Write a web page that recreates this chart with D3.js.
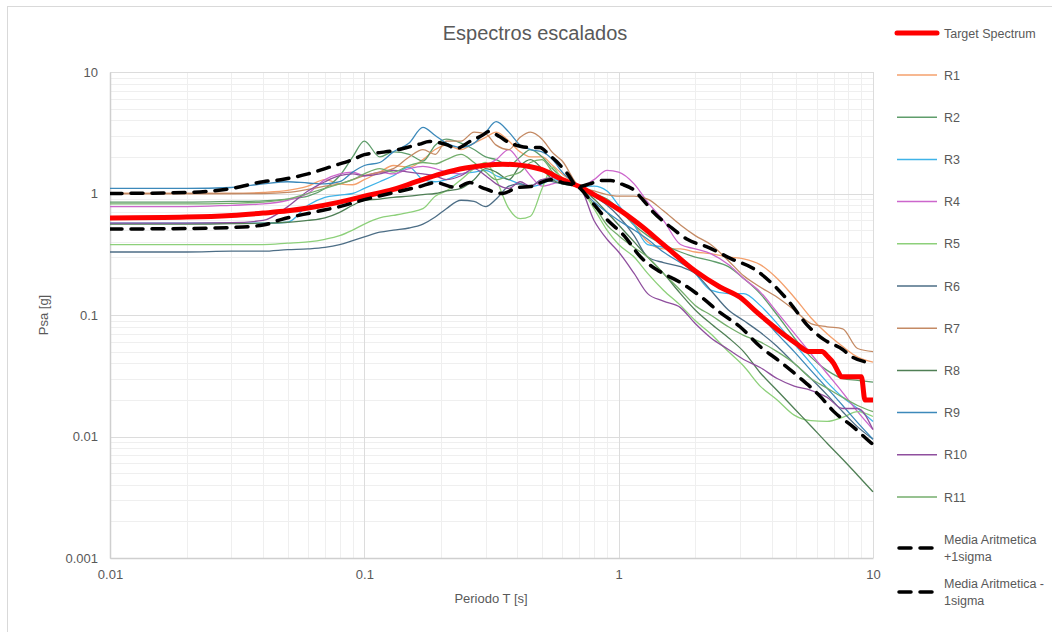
<!DOCTYPE html>
<html>
<head>
<meta charset="utf-8">
<script src="https://cdn.jsdelivr.net/npm/d3@7"></script>
<style>
  body { margin: 0; background: #fff; }
  text { font-family: "Liberation Sans", Arial, sans-serif; fill: #595959; }
</style>
</head>
<body>
<script>
var w = 1052, h = 632,
    pLeft = 110, pRight = 873, pTop = 72, pBottom = 558;

// periods shared by the eleven scaled records
var periods = [0.01, 0.02, 0.03, 0.04, 0.05, 0.06, 0.07, 0.08, 0.09, 0.1, 0.115, 0.13, 0.15, 0.17, 0.19, 0.21, 0.24, 0.27, 0.3, 0.33,
  0.37, 0.41, 0.45, 0.5, 0.55, 0.6, 0.7, 0.8, 0.9, 1.0, 1.15, 1.3, 1.5, 1.75, 2.0, 2.3, 2.7, 3.1, 3.6, 4.2, 4.9, 5.7, 6.6, 7.6, 8.7, 10];

var r1 = [1.0, 1.0, 1.0, 1.02, 1.06, 1.15, 1.3, 1.2, 1.18, 1.3, 1.5, 1.7, 1.65, 1.9, 2.3, 2.5, 2.3, 2.6, 2.9, 3.2,
  2.7, 2.2, 2.0, 2.0, 1.7, 1.45, 1.14, 0.95, 0.85, 0.75, 0.55, 0.40, 0.35, 0.35, 0.33, 0.32, 0.30, 0.29, 0.26, 0.2, 0.14, 0.095, 0.07, 0.055, 0.045, 0.041];
var r2 = [0.85, 0.85, 0.86, 0.87, 0.9, 0.95, 1.1, 1.4, 2.0, 2.7, 2.0, 2.2, 2.1, 1.85, 2.5, 2.8, 2.6, 2.3, 2.0, 1.9,
  1.7, 2.0, 2.3, 2.0, 1.6, 1.35, 1.14, 1.0, 0.9, 0.75, 0.55, 0.45, 0.38, 0.33, 0.3, 0.28, 0.25, 0.2, 0.15, 0.1, 0.065, 0.045, 0.035, 0.03, 0.029, 0.028];
var r3 = [0.57, 0.57, 0.57, 0.57, 0.58, 0.8, 0.93, 0.97, 1.0, 1.1, 1.25, 1.4, 1.65, 1.3, 1.25, 1.3, 1.45, 1.5, 1.55, 1.4,
  1.3, 1.2, 1.14, 1.2, 1.3, 1.25, 1.14, 1.15, 1.05, 0.8, 0.55, 0.38, 0.36, 0.3, 0.22, 0.16, 0.15, 0.15, 0.12, 0.085, 0.058, 0.04, 0.028, 0.021, 0.017, 0.0133];
var r4 = [0.78, 0.78, 0.8, 0.82, 0.88, 1.0, 1.3, 1.45, 1.5, 1.4, 1.5, 1.45, 1.6, 1.67, 1.6, 1.5, 1.45, 1.6, 1.7, 1.9,
  2.3, 1.8, 1.4, 1.15, 1.2, 1.25, 1.14, 1.3, 1.55, 1.5, 1.2, 0.85, 0.6, 0.38, 0.35, 0.32, 0.26, 0.2, 0.155, 0.105, 0.071, 0.048, 0.033, 0.023, 0.016, 0.0114];
var r5 = [0.38, 0.38, 0.38, 0.38, 0.39, 0.4, 0.42, 0.45, 0.5, 0.56, 0.63, 0.66, 0.7, 0.75, 0.95, 1.05, 1.3, 1.6, 1.8, 1.3,
  0.75, 0.62, 0.65, 1.1, 1.65, 1.3, 1.14, 0.75, 0.5, 0.38, 0.3, 0.22, 0.16, 0.12, 0.09, 0.07, 0.05, 0.038, 0.026, 0.02, 0.015, 0.0135, 0.0133, 0.0144, 0.016, 0.0146];
var r6 = [0.33, 0.33, 0.335, 0.335, 0.345, 0.35, 0.36, 0.38, 0.41, 0.44, 0.48, 0.5, 0.52, 0.56, 0.64, 0.75, 0.88, 0.86, 0.78, 0.9,
  1.15, 1.2, 1.15, 1.3, 1.25, 1.2, 1.14, 0.95, 0.8, 0.65, 0.45, 0.3, 0.27, 0.25, 0.22, 0.16, 0.11, 0.09, 0.072, 0.055, 0.04, 0.03, 0.022, 0.016, 0.012, 0.0095];
var r7 = [1.0, 1.0, 1.0, 1.0, 1.02, 1.08, 1.15, 1.2, 1.3, 1.4, 1.5, 1.6, 2.0, 2.3, 2.1, 2.7, 2.7, 3.2, 3.1, 2.5,
  2.3, 2.9, 3.2, 2.8, 2.17, 1.85, 1.14, 1.05, 0.98, 0.95, 0.95, 0.9, 0.72, 0.55, 0.45, 0.38, 0.28, 0.21, 0.17, 0.14, 0.11, 0.085, 0.08, 0.077, 0.053, 0.05];
var r8 = [0.56, 0.56, 0.565, 0.57, 0.58, 0.6, 0.63, 0.7, 0.8, 0.88, 0.9, 0.93, 0.95, 0.98, 1.0, 1.05, 1.1, 1.3, 1.6, 1.5,
  1.3, 1.7, 1.9, 1.6, 1.3, 1.2, 1.14, 0.9, 0.7, 0.55, 0.4, 0.3, 0.22, 0.15, 0.11, 0.085, 0.065, 0.05, 0.0335, 0.0239, 0.017, 0.0122, 0.0088, 0.0065, 0.0048, 0.0035];
var r9 = [1.1, 1.1, 1.12, 1.2, 1.25, 1.22, 1.2, 1.25, 1.5, 1.7, 1.8, 2.2, 2.6, 3.5, 3.0, 2.6, 2.4, 2.6, 3.2, 3.9,
  3.2, 2.5, 2.3, 2.2, 1.9, 1.5, 1.14, 0.85, 0.7, 0.6, 0.5, 0.42, 0.33, 0.27, 0.23, 0.19, 0.16, 0.13, 0.1, 0.07, 0.05, 0.035, 0.025, 0.018, 0.013, 0.0095];
var r10 = [0.57, 0.57, 0.575, 0.6, 0.78, 1.05, 1.25, 1.4, 1.45, 1.4, 1.45, 1.55, 1.5, 1.45, 1.4, 1.3, 1.4, 1.6, 1.4, 1.2,
  1.1, 1.25, 1.15, 1.3, 1.35, 1.25, 1.14, 0.6, 0.42, 0.33, 0.22, 0.15, 0.13, 0.115, 0.085, 0.065, 0.052, 0.043, 0.037, 0.03, 0.026, 0.024, 0.021, 0.017, 0.017, 0.0114];
var r11 = [0.82, 0.82, 0.83, 0.85, 0.9, 1.0, 1.1, 1.2, 1.3, 1.45, 1.6, 1.5, 1.7, 1.8, 1.75, 1.9, 2.1, 1.8, 1.5, 1.3,
  1.4, 1.5, 1.8, 1.9, 1.5, 1.3, 1.14, 0.8, 0.55, 0.45, 0.36, 0.3, 0.22, 0.16, 0.12, 0.1, 0.08, 0.068, 0.06, 0.05, 0.04, 0.03, 0.025, 0.021, 0.018, 0.016];

var records = [r1, r2, r3, r4, r5, r6, r7, r8, r9, r10, r11];
var recordNames = ["R1", "R2", "R3", "R4", "R5", "R6", "R7", "R8", "R9", "R10", "R11"];
var recordColors = ["#f4a06c", "#5f9d6b", "#3fb3e8", "#cc66cc", "#8dd07a", "#4d6e86", "#c48a64", "#4f7f55", "#3c89ba", "#8f4f9e", "#74ae6c"];

// target spectrum
var targetT = [0.01, 0.02, 0.03, 0.04, 0.05, 0.06, 0.08, 0.1, 0.13, 0.16, 0.2, 0.25, 0.3, 0.35, 0.4, 0.45, 0.5, 0.6, 0.7, 0.8,
  0.9, 1.0, 1.2, 1.5, 2.0, 2.5, 3.0, 3.5, 4.0, 4.5, 5.0, 5.6, 6.3, 6.6, 7.0, 7.3, 7.5, 9.0, 9.3, 10];
var targetSa = [0.63, 0.64, 0.66, 0.69, 0.72, 0.76, 0.85, 0.95, 1.08, 1.25, 1.45, 1.62, 1.71, 1.74, 1.72, 1.66, 1.57, 1.3, 1.14, 0.98,
  0.85, 0.74, 0.56, 0.38, 0.23, 0.17, 0.14, 0.105, 0.083, 0.068, 0.058, 0.05, 0.05, 0.046, 0.04, 0.034, 0.031, 0.031, 0.02, 0.02];

// media aritmetica +1 sigma
var plusT = [0.01, 0.02, 0.03, 0.04, 0.047, 0.06, 0.075, 0.09, 0.1, 0.115, 0.13, 0.147, 0.165, 0.18, 0.21, 0.23, 0.26, 0.29, 0.31, 0.34,
  0.37, 0.41, 0.45, 0.49, 0.53, 0.57, 0.63, 0.69, 0.77, 0.85, 0.93, 1.02, 1.14, 1.25, 1.37, 1.59, 1.86, 2.25, 2.8, 3.4, 4.05, 4.7, 5.5, 6.4, 7.6, 8.3, 9.4, 10];
var plusSa = [1.0, 1.02, 1.1, 1.25, 1.3, 1.45, 1.68, 1.9, 2.09, 2.17, 2.25, 2.39, 2.55, 2.68, 2.53, 2.35, 2.68, 3.0, 3.24, 2.94,
  2.63, 2.45, 2.39, 2.39, 2.1, 1.83, 1.45, 1.14, 1.2, 1.28, 1.28, 1.2, 1.08, 0.88, 0.7, 0.535, 0.42, 0.36, 0.287, 0.24, 0.178, 0.127, 0.083, 0.063, 0.052, 0.045, 0.041, 0.04];

// media aritmetica -1 sigma
var minusT = [0.01, 0.02, 0.03, 0.04, 0.047, 0.063, 0.08, 0.1, 0.126, 0.165, 0.19, 0.23, 0.26, 0.29, 0.35, 0.4, 0.45, 0.54, 0.6, 0.69,
  0.77, 0.9, 1.05, 1.22, 1.45, 1.75, 2.1, 2.5, 3.0, 3.6, 4.3, 5.1, 6.2, 7.0, 8.4, 9.8, 10];
var minusSa = [0.51, 0.515, 0.525, 0.55, 0.61, 0.7, 0.78, 0.89, 1.0, 1.14, 1.23, 1.12, 1.23, 1.12, 1.0, 1.12, 1.14, 1.3, 1.23, 1.14,
  0.89, 0.61, 0.45, 0.3, 0.228, 0.185, 0.142, 0.105, 0.08, 0.055, 0.0415, 0.031, 0.0214, 0.0161, 0.0119, 0.0089, 0.0086];

var xTicks = [0.01, 0.1, 1, 10];
var yTicks = [0.001, 0.01, 0.1, 1, 10];

var svg = d3.select("body").append("svg")
    .attr("width", w)
    .attr("height", h);

// chart border (only top/left visible in the frame)
svg.append("rect")
    .attr("x", 7.5).attr("y", 6.5)
    .attr("width", w + 10).attr("height", h + 10)
    .attr("fill", "none").attr("stroke", "#d9d9d9");

var x = d3.scaleLog().domain([0.01, 10]).range([pLeft, pRight]);
var y = d3.scaleLog().domain([0.001, 10]).range([pBottom, pTop]);

// minor grid
var minorX = [], minorY = [];
[0.01, 0.1, 1].forEach(function (d) { for (var k = 2; k < 10; k++) minorX.push(d * k) });
[0.001, 0.01, 0.1, 1].forEach(function (d) { for (var k = 2; k < 10; k++) minorY.push(d * k) });

var grid = svg.append("g");
grid.selectAll(".mx").data(minorX).enter().append("line")
    .attr("x1", function (d) { return Math.round(x(d)) + 0.5 }).attr("x2", function (d) { return Math.round(x(d)) + 0.5 })
    .attr("y1", pTop).attr("y2", pBottom)
    .attr("stroke", "#efefef");
grid.selectAll(".my").data(minorY).enter().append("line")
    .attr("y1", function (d) { return Math.round(y(d)) + 0.5 }).attr("y2", function (d) { return Math.round(y(d)) + 0.5 })
    .attr("x1", pLeft).attr("x2", pRight)
    .attr("stroke", "#efefef");
grid.selectAll(".Mx").data(xTicks).enter().append("line")
    .attr("x1", function (d) { return Math.round(x(d)) + 0.5 }).attr("x2", function (d) { return Math.round(x(d)) + 0.5 })
    .attr("y1", pTop).attr("y2", pBottom)
    .attr("stroke", "#dcdcdc");
grid.selectAll(".My").data(yTicks).enter().append("line")
    .attr("y1", function (d) { return Math.round(y(d)) + 0.5 }).attr("y2", function (d) { return Math.round(y(d)) + 0.5 })
    .attr("x1", pLeft).attr("x2", pRight)
    .attr("stroke", "#dcdcdc");

// axes
var xAxis = svg.append("g").attr("transform", "translate(0," + pBottom + ")")
    .call(d3.axisBottom(x).tickValues(xTicks).tickFormat(function (d) { return String(d) }).tickSize(0).tickPadding(12));
var yAxis = svg.append("g").attr("transform", "translate(" + pLeft + ",0)")
    .call(d3.axisLeft(y).tickValues(yTicks).tickFormat(function (d) { return String(d) }).tickSize(0).tickPadding(12));
[xAxis, yAxis].forEach(function (a) {
    a.select(".domain").attr("stroke", "#cfcfcf").attr("stroke-width", 1.5);
    a.selectAll("text").style("font-size", "13px").attr("fill", "#595959").style("font-family", "'Liberation Sans', Arial, sans-serif");
});

svg.append("clipPath").attr("id", "plot")
    .append("rect").attr("x", pLeft).attr("y", pTop - 5).attr("width", pRight - pLeft + 3).attr("height", pBottom - pTop + 5);

var line = d3.line()
    .x(function (d) { return x(d[0]) })
    .y(function (d) { return y(d[1]) })
    .curve(d3.curveMonotoneX);

var plot = svg.append("g").attr("clip-path", "url(#plot)");

plot.selectAll(".rec").data(records).enter().append("path")
    .attr("class", "rec")
    .attr("d", function (vals) { return line(periods.map(function (p, i) { return [p, vals[i]] })) })
    .attr("fill", "none")
    .attr("stroke", function (d, i) { return recordColors[i] })
    .attr("stroke-width", 1.3);

plot.append("path")
    .attr("d", line(targetT.map(function (t, i) { return [t, targetSa[i]] })))
    .attr("fill", "none").attr("stroke", "#ff0000").attr("stroke-width", 5)
    .attr("stroke-linejoin", "round");

[[plusT, plusSa], [minusT, minusSa]].forEach(function (s) {
    plot.append("path")
        .attr("d", line(s[0].map(function (t, i) { return [t, s[1][i]] })))
        .attr("fill", "none").attr("stroke", "#000").attr("stroke-width", 3.5)
        .attr("stroke-dasharray", "12,9").attr("stroke-linecap", "round");
});

// titles
svg.append("text").attr("x", 535).attr("y", 40).attr("text-anchor", "middle")
    .style("font-size", "20px").text("Espectros escalados");
svg.append("text").attr("x", 491).attr("y", 603).attr("text-anchor", "middle")
    .style("font-size", "13px").text("Periodo T [s]");
svg.append("text").attr("transform", "translate(48,315) rotate(-90)").attr("text-anchor", "middle")
    .style("font-size", "13px").text("Psa [g]");

// legend
var legend = svg.append("g");
var lx1 = 897, lx2 = 937, tx = 944;
legend.append("line").attr("x1", lx1).attr("x2", lx2).attr("y1", 33).attr("y2", 33)
    .attr("stroke", "#ff0000").attr("stroke-width", 5).attr("stroke-linecap", "round");
legend.append("text").attr("x", tx).attr("y", 37.5).style("font-size", "12.5px").text("Target Spectrum");

recordNames.forEach(function (n, i) {
    var ly = 75 + i * 42.2;
    legend.append("line").attr("x1", lx1).attr("x2", lx2).attr("y1", ly).attr("y2", ly)
        .attr("stroke", recordColors[i]).attr("stroke-width", 1.5);
    legend.append("text").attr("x", tx).attr("y", ly + 4.5).style("font-size", "12.5px").text(n);
});

[["Media Aritmetica", "+1sigma", 548], ["Media Aritmetica -", "1sigma", 592]].forEach(function (m) {
    legend.append("line").attr("x1", lx1 + 2).attr("x2", lx2).attr("y1", m[2]).attr("y2", m[2])
        .attr("stroke", "#000").attr("stroke-width", 3.5)
        .attr("stroke-dasharray", "12,9").attr("stroke-linecap", "round");
    var t = legend.append("text").attr("x", tx).attr("y", m[2] - 4).style("font-size", "12.5px");
    t.append("tspan").attr("x", tx).text(m[0]);
    t.append("tspan").attr("x", tx).attr("dy", 17).text(m[1]);
});
</script>
</body>
</html>
